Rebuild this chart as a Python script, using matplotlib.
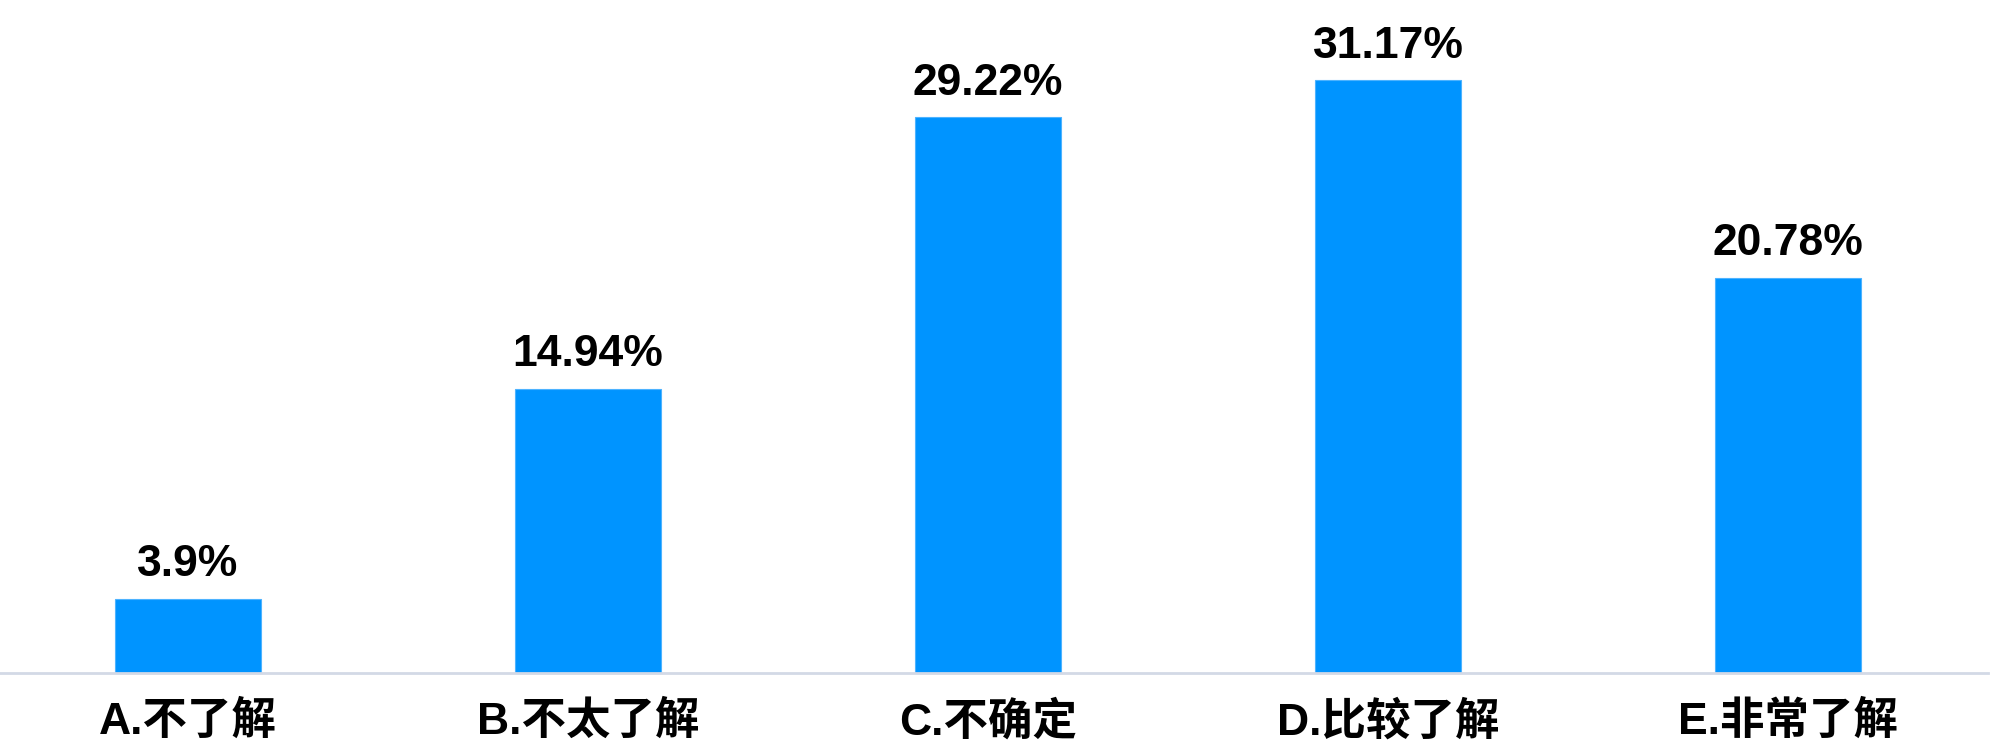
import matplotlib
matplotlib.use('Agg')
import matplotlib.pyplot as plt
import numpy as np

plt.rcParams['font.family'] = ['Liberation Sans', 'Noto Sans CJK SC', 'DejaVu Sans']

categories = ['A.不了解', 'B.不太了解', 'C.不确定', 'D.比较了解', 'E.非常了解']
values = [3.9, 14.94, 29.22, 31.17, 20.78]
labels = ['3.9%', '14.94%', '29.22%', '31.17%', '20.78%']


def main():
    fig = plt.figure(figsize=(19.99, 7.54), dpi=100)
    ax = fig.add_axes([0, 0.1074, 1988 / 1999, 0.8926])
    x = np.arange(len(categories))
    ax.bar(x, values, width=0.367, color='#0094FF', edgecolor='#4DB3FF',
           linewidth=0.8, zorder=2)
    for xi, v, lab in zip(x, values, labels):
        ax.annotate(lab, (xi, v), xytext=(0, 10), textcoords='offset points',
                    ha='center', va='bottom', fontsize=32, fontweight='bold',
                    color='#000000')
    ax.set_xlim(-0.47, 4.5)
    ax.set_ylim(0, 35.4)
    ax.set_xticks(x)
    ax.set_xticklabels(categories, fontsize=32, fontweight='heavy')
    ax.tick_params(axis='x', length=0, pad=20)
    ax.set_yticks([])
    for side in ['top', 'right', 'left']:
        ax.spines[side].set_visible(False)
    ax.spines['bottom'].set_color('#D3D9E6')
    ax.spines['bottom'].set_linewidth(2)
    fig.savefig('out.png', dpi=100)


if __name__ == '__main__':
    main()
